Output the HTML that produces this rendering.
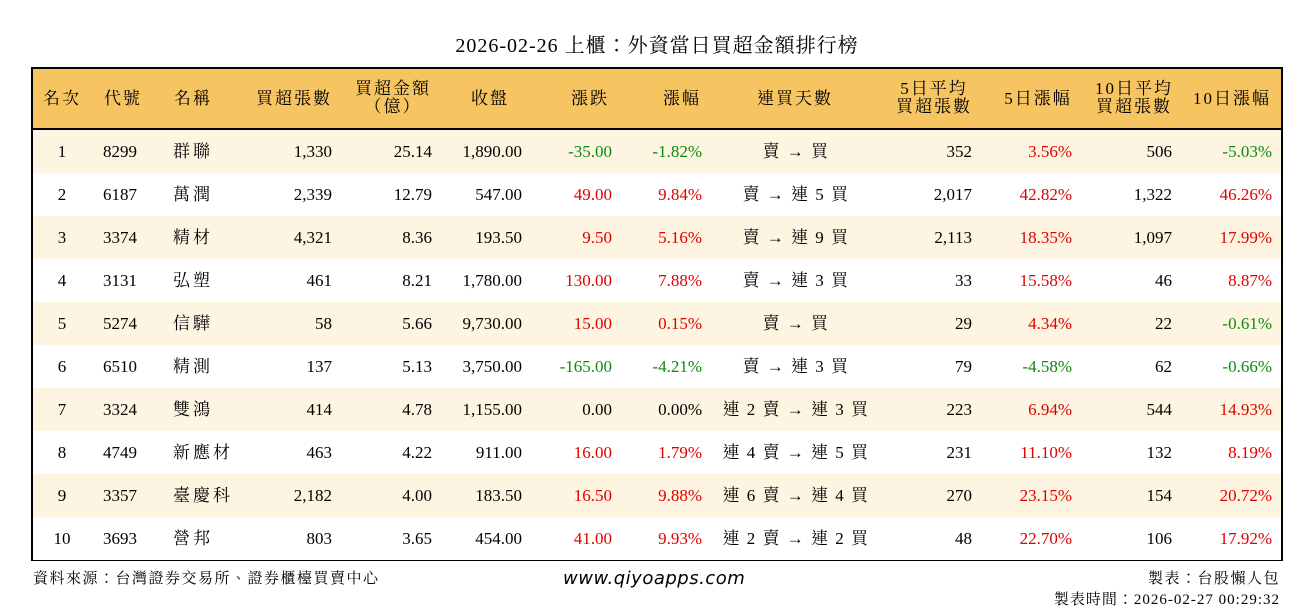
<!DOCTYPE html><html><head><meta charset="utf-8"><style>
body{margin:0;width:1314px;height:612px;background:#fff;position:relative;font-family:"Liberation Serif","Noto Serif CJK TC","Noto Serif CJK SC",serif;color:#000;overflow:hidden}
.t{position:absolute;left:0;width:1314px;top:29px;text-align:center;font-size:20px;letter-spacing:1px}
.tb{position:absolute;left:31px;top:67px;width:1248px;height:490px;border:2px solid #000}
.hd{position:absolute;left:0;top:0;width:1248px;height:59px;background:#f7c462;border-bottom:2px solid #000}
.r{position:absolute;left:0;width:1248px;height:43px}
.c{position:absolute;font-size:17px;white-space:nowrap;line-height:43px}
.h{position:absolute;font-size:17px;white-space:nowrap;letter-spacing:2px;line-height:18px;text-align:center}
.R{color:#e00000}.G{color:#0d8a0d}
.f{position:absolute;font-size:15px;letter-spacing:1.5px;white-space:nowrap}
</style></head><body>
<div class="t">2026-02-26 上櫃：外資當日買超金額排行榜</div>
<div class="tb" id="tb"><div class="hd" id="hd"></div></div>
<div class="f" style="left:33px;top:567px">資料來源：台灣證券交易所、證券櫃檯買賣中心</div>
<div class="f" style="left:563px;top:568px;font-family:'DejaVu Sans',sans-serif;font-style:italic;font-size:18px;letter-spacing:0.5px">www.qiyoapps.com</div>
<div class="f" style="right:34px;top:567px">製表：台股懶人包</div>
<div class="f" style="right:34px;top:588px;letter-spacing:1px">製表時間：2026-02-27 00:29:32</div>
<script>
var hd=document.getElementById('hd'),tb=document.getElementById('tb');
var H=[["名次",62],["代號",123],["名稱",193],["買超張數",294],["買超金額<br>（億）",393],["收盤",490],["漲跌",590],["漲幅",682],["連買天數",795],["5日平均<br>買超張數",934],["5日漲幅",1038],["10日平均<br>買超張數",1134],["10日漲幅",1232]];
H.forEach(function(h){var d=document.createElement('div');d.className='h';d.innerHTML=h[0];var two=h[0].indexOf('<br>')>0;d.style.top=(two?11:21)+'px';d.style.left=(h[1]-33-80)+'px';d.style.width='160px';hd.appendChild(d);});
var D=[
[1,8299,"群聯","1,330","25.14","1,890.00","-35.00","-1.82%","賣 → 買","352","3.56%","506","-5.03%"],
[2,6187,"萬潤","2,339","12.79","547.00","49.00","9.84%","賣 → 連 5 買","2,017","42.82%","1,322","46.26%"],
[3,3374,"精材","4,321","8.36","193.50","9.50","5.16%","賣 → 連 9 買","2,113","18.35%","1,097","17.99%"],
[4,3131,"弘塑","461","8.21","1,780.00","130.00","7.88%","賣 → 連 3 買","33","15.58%","46","8.87%"],
[5,5274,"信驊","58","5.66","9,730.00","15.00","0.15%","賣 → 買","29","4.34%","22","-0.61%"],
[6,6510,"精測","137","5.13","3,750.00","-165.00","-4.21%","賣 → 連 3 買","79","-4.58%","62","-0.66%"],
[7,3324,"雙鴻","414","4.78","1,155.00","0.00","0.00%","連 2 賣 → 連 3 買","223","6.94%","544","14.93%"],
[8,4749,"新應材","463","4.22","911.00","16.00","1.79%","連 4 賣 → 連 5 買","231","11.10%","132","8.19%"],
[9,3357,"臺慶科","2,182","4.00","183.50","16.50","9.88%","連 6 賣 → 連 4 買","270","23.15%","154","20.72%"],
[10,3693,"營邦","803","3.65","454.00","41.00","9.93%","連 2 賣 → 連 2 買","48","22.70%","106","17.92%"]];
function col(v){return String(v).charAt(0)=='-'?'G':(parseFloat(v)==0?'':'R');}
D.forEach(function(r,i){var row=document.createElement('div');row.className='r';row.style.top=(61+i*43)+'px';row.style.background=i%2==0?'#fdf5e1':'#fff';tb.appendChild(row);
function add(t,mode,x,cls,ls){var d=document.createElement('div');d.className='c'+(cls?' '+cls:'');d.textContent=t;x-=33;
if(mode=='c'){d.style.left=(x-100)+'px';d.style.width='200px';d.style.textAlign='center';}
else if(mode=='l'){d.style.left=x+'px';}else{d.style.right=(1248-x)+'px';}
if(ls)d.style.letterSpacing=ls;row.appendChild(d);}
add(r[0],'c',62);add(r[1],'l',103);add(r[2],'l',173,'','3px');add(r[3],'r',332);add(r[4],'r',432);add(r[5],'r',522);
add(r[6],'r',612,col(r[6]));add(r[7],'r',702,col(r[7]));add(r[8],'c',796,'','1.5px');add(r[9],'r',972);add(r[10],'r',1072,col(r[10]));add(r[11],'r',1172);add(r[12],'r',1272,col(r[12]));});
</script></body></html>
